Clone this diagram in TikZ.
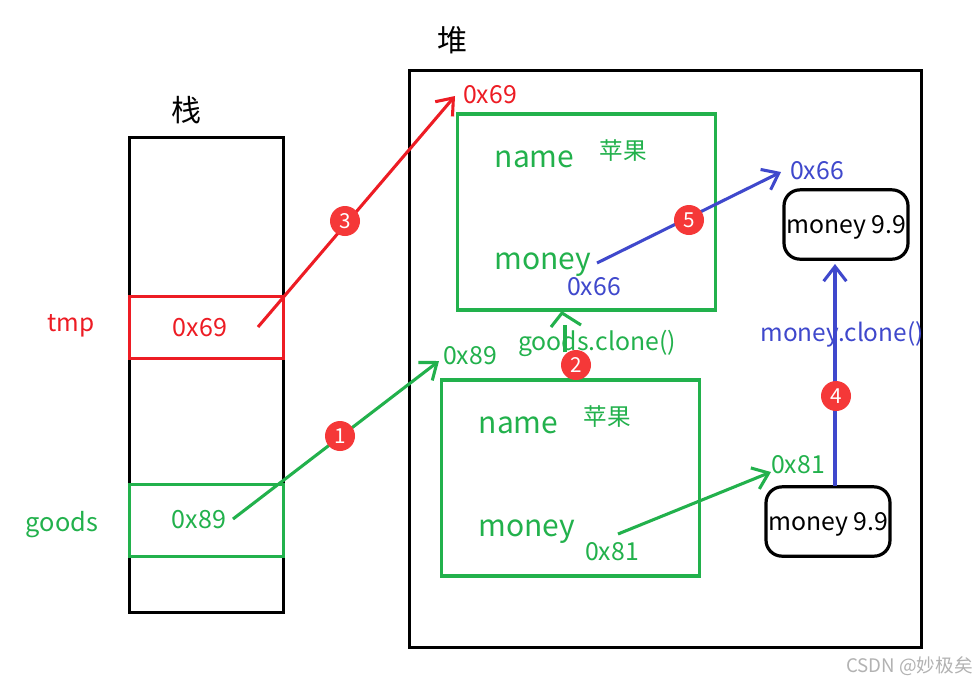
\documentclass[tikz,border=0pt]{standalone}
\usepackage{fontspec}
\setmainfont{Noto Sans CJK SC}
\usetikzlibrary{arrows.meta}
\definecolor{gr}{RGB}{34,177,76}
\definecolor{rd}{RGB}{237,28,36}
\definecolor{bl}{RGB}{63,72,204}
\definecolor{badge}{RGB}{245,56,56}
\newcommand{\fs}[1]{\fontsize{#1}{#1}\selectfont}
\tikzset{
 x=0.75pt,y=-0.75pt,
 box/.style={draw=#1,line width=2.4pt,inner sep=0},
 txt/.style={text=#1,inner sep=0,anchor=center},
 badgen/.style={circle,fill=badge,text=white,minimum size=22.5pt,inner sep=0,font=\fs{15.5}},
 conn/.style={draw=#1,line width=2.3pt,-{Straight Barb[length=11pt,width=17pt,line width=2.3pt]}},
 plain/.style={draw=#1,line width=2.3pt},
 rounded/.style={draw=black,line width=2.4pt,fill=white,rounded corners=12pt,inner sep=0,text=black,font=\fs{18.6}},
}
\begin{document}
\begin{tikzpicture}
\useasboundingbox (0,0) rectangle (977,683);
\fill[white] (0,0) rectangle (977,683);
% frames
\node[box=black,minimum width=115pt,minimum height=356pt] (stack) at (206.5,375) {};
\node[box=black,minimum width=384pt,minimum height=433pt] (heap) at (665.5,359) {};
\node[txt=black,font=\fs{22.5}] (stacklabel) at (186,110) {栈};
\node[txt=black,font=\fs{22.5}] (heaplabel) at (452,40) {堆};
% stack cells
\node[box=rd,minimum width=115pt,minimum height=46pt] (tmpcell) at (206.5,327.5) {};
\node[box=gr,minimum width=115pt,minimum height=54pt] (goodscell) at (206.5,520.5) {};
\node[txt=rd,font=\fs{18.3}] (tmp) at (71,326) {tmp};
\node[txt=gr,font=\fs{19}] (goods) at (62,525) {goods};
\node[txt=rd,font=\fs{18.8}] (a69) at (200,328) {0x69};
\node[txt=gr,font=\fs{18.8}] (a89) at (199,520) {0x89};
% objects
\node[box=gr,minimum width=193.5pt,minimum height=147pt] (upper) at (586.5,212) {};
\node[box=gr,minimum width=193.5pt,minimum height=147pt] (lower) at (570.5,478) {};
\node[txt=gr,font=\fs{22.5}] (n1) at (534.5,159.5) {name};
\node[txt=gr,font=\fs{17.7}] (p1) at (623,151) {苹果};
\node[txt=gr,font=\fs{22.5}] (m1) at (543,264.5) {money};
\node[txt=bl,font=\fs{18.6}] (v66) at (594,287) {0x66};
\node[txt=gr,font=\fs{22.5}] (n2) at (518.5,425.5) {name};
\node[txt=gr,font=\fs{17.7}] (p2) at (607,417) {苹果};
\node[txt=gr,font=\fs{22.5}] (m2) at (527,531.5) {money};
\node[txt=gr,font=\fs{18.6}] (v81) at (612,552) {0x81};
% address labels
\node[txt=rd,font=\fs{18.6}] (h69) at (490,95) {0x69};
\node[txt=gr,font=\fs{18.6}] (h89) at (470,356) {0x89};
\node[txt=bl,font=\fs{18.6}] (h66) at (817,171) {0x66};
\node[txt=gr,font=\fs{18.6}] (h81) at (798,465) {0x81};
% money boxes
\node[rounded,minimum width=93pt,minimum height=52pt] (mb1) at (846,224.5) {\smash{\raisebox{-6.5pt}{money 9.9}}};
\node[rounded,minimum width=93pt,minimum height=52pt] (mb2) at (828,521.5) {\smash{\raisebox{-6.5pt}{money 9.9}}};
% connector ends
\coordinate (s1) at (233,519);
\coordinate (t1) at (439,361);
\coordinate (s2) at (565,352);
\coordinate (s2b) at (565,325);
\coordinate (h2) at (562,313);
\coordinate (h2a) at (551,327);
\coordinate (h2b) at (581,325);
\coordinate (s3) at (258,327);
\coordinate (t3) at (455,96);
\coordinate (s4) at (835,486);
\coordinate (t4) at (835,264);
\coordinate (s5) at (597,263);
\coordinate (t5) at (781,172);
\coordinate (s6) at (618,534);
\coordinate (t6) at (771,472);
% connectors
\draw[conn=gr] (s1) -- (t1);
\draw[conn=rd] (s3) -- (t3);
\draw[conn=bl] (s4) -- (t4);
\draw[conn=bl] (s5) -- (t5);
\draw[conn=gr] (s6) -- (t6);
\draw[plain=gr] (s2) -- (s2b);
\draw[plain=gr] (h2a) -- (h2) -- (h2b);
% clone labels
\node[txt=gr,font=\fs{18.6}] (gc) at (597,343) {goods.clone()};
\node[txt=bl,font=\fs{18.3}] (mc) at (842,334) {money.clone()};
% badges
\node[badgen] (b1) at (340,436) {1};
\node[badgen] (b2) at (576,365) {2};
\node[badgen] (b3) at (345,221) {3};
\node[badgen] (b4) at (836,396) {4};
\node[badgen] (b5) at (689,220) {5};
% watermark
\node[txt={black!30},font=\fs{14}] (wm) at (909.5,666) {CSDN @妙极矣};
\end{tikzpicture}
\end{document}
